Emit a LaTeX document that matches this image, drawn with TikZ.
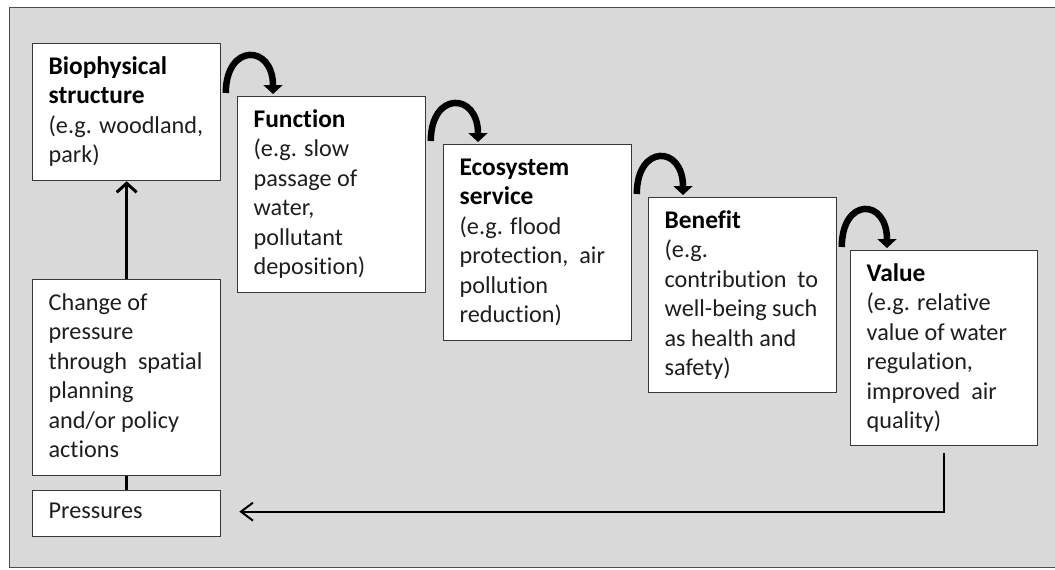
\documentclass[tikz,border=0pt]{standalone}
\usepackage{fontspec}
\setmainfont{Carlito}[Ligatures=NoCommon]
\usetikzlibrary{arrows.meta,calc}
\definecolor{bggray}{HTML}{D9D9D9}
\definecolor{txt}{HTML}{1E1E1E}
\newcommand\bxt[3]{\parbox[c][#2pt][t]{#1pt}{\raggedright\rule{0pt}{30.5pt}#3}}
\newcommand\myln[1]{\mbox{#1}}
\newcommand\myttl[1]{\mbox{\fontsize{25.4}{29.5}\selectfont\bfseries\color{black}#1}}
\tikzset{
  box/.style={draw=black!78, line width=1.3pt, fill=white, inner xsep=16pt, inner ysep=0pt,
    anchor=north west, text=txt, font=\fontsize{24.2}{29.5}\selectfont},
  curv/.style={line width=6.5pt, -{Triangle[length=9pt,width=19pt]}},
  uparrow/.style={line width=3.5pt, -{Straight Barb[length=9pt,width=20pt,line width=3pt]}},
  backarrow/.style={line width=2pt, -{Straight Barb[length=12pt,width=18pt,line width=2pt]}},
  link/.style={line width=3.5pt}
}
\begin{document}
\begin{tikzpicture}[x=1pt,y=-1pt]
\useasboundingbox (0,0) rectangle (1055,570);
\fill[white] (0,0) rectangle (1055,570);
\filldraw[fill=bggray, draw=black!70, line width=1.5pt] (9.5,7.5) rectangle (1065,567.5);

\node[box] (bio) at (32,43) {\bxt{156}{137}{\myttl{Biophysical}\\\myttl{structure}\\\myln{(e.g. woodland,}\\\myln{park)}}};
\node[box] (fun) at (237,96) {\bxt{156}{196}{\myttl{Function}\\\myln{(e.g. slow}\\\myln{passage of}\\\myln{water,}\\\myln{pollutant}\\\myln{deposition)}}};
\node[box] (eco) at (443,144) {\bxt{156}{196}{\myttl{Ecosystem}\\\myttl{service}\\\myln{(e.g. flood}\\\myln{protection,\ \ air}\\\myln{pollution}\\\myln{reduction)}}};
\node[box] (ben) at (648,197) {\bxt{156}{195}{\myttl{Benefit}\\\myln{(e.g.}\\\myln{contribution\ \ to}\\\myln{well-being such}\\\myln{as health and}\\\myln{safety)}}};
\node[box] (val) at (850,250) {\bxt{155}{195}{\myttl{Value}\\\myln{(e.g. relative}\\\myln{value of water}\\\myln{regulation,}\\\myln{improved\ \ air}\\\myln{quality)}}};
\node[box] (chg) at (32,279) {\bxt{156}{196}{\myln{Change of}\\\myln{pressure}\\\myln{through\ \ spatial}\\\myln{planning}\\\myln{and/or policy}\\\myln{actions}}};
\node[box] (pres) at (32,490) {\parbox[c][46pt][t]{156pt}{\raggedright\rule{0pt}{28pt}Pressures}};

\draw[curv] ($(bio.east |- fun.north)+(4.5,-3)$) .. controls +(0,-50) and +(0,-50) .. ($(fun.north west)+(36,-2)$);
\draw[curv] ($(fun.east |- eco.north)+(4.5,-3)$) .. controls +(0,-50) and +(0,-50) .. ($(eco.north west)+(35,-2)$);
\draw[curv] ($(eco.east |- ben.north)+(4.5,-3)$) .. controls +(0,-50) and +(0,-50) .. ($(ben.north west)+(35,-2)$);
\draw[curv] ($(ben.east |- val.north)+(4.5,-3)$) .. controls +(0,-50) and +(0,-50) .. ($(val.north west)+(37,-2)$);

\draw[uparrow] (chg.north) -- (bio.south);
\draw[link] (pres.north) -- (chg.south);
\draw[backarrow] ([yshift=-7pt]val.south) |- ([xshift=18pt,yshift=2pt]pres.east);
\end{tikzpicture}
\end{document}
